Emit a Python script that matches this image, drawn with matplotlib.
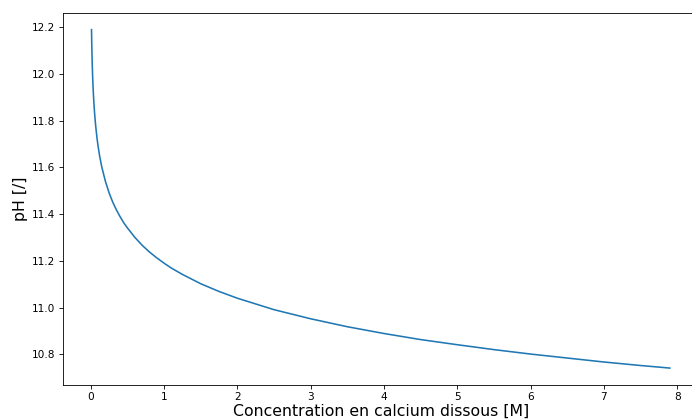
import numpy as np
import matplotlib
matplotlib.use("Agg")
import matplotlib.pyplot as plt

# concentration en calcium dissous [M] et pH
conc = [0.01, 0.0125, 0.015, 0.02, 0.025, 0.03, 0.035, 0.04, 0.05, 0.06,
        0.07, 0.085, 0.1, 0.12, 0.15, 0.2, 0.25, 0.3, 0.35, 0.4,
        0.45, 0.5, 0.6, 0.7, 0.8, 0.9, 1.0, 1.1, 1.25, 1.5,
        1.75, 2.0, 2.5, 3.0, 3.5, 4.0, 4.5, 5.0, 5.5, 6.0,
        6.5, 7.0, 7.5, 7.9]
ph = [12.190, 12.142, 12.102, 12.040, 11.991, 11.952, 11.918, 11.889, 11.841, 11.801,
      11.768, 11.725, 11.690, 11.650, 11.602, 11.540, 11.491, 11.451, 11.418, 11.389,
      11.363, 11.341, 11.301, 11.267, 11.238, 11.213, 11.190, 11.169, 11.142, 11.102,
      11.069, 11.040, 10.991, 10.952, 10.918, 10.889, 10.863, 10.841, 10.820, 10.801,
      10.784, 10.767, 10.752, 10.741]

k = 0.76  # echelle des tailles (police, traits)
plt.rcParams.update({
    "font.size": 10 * k,
    "axes.linewidth": 0.8 * k,
    "xtick.major.size": 3.5 * k,
    "ytick.major.size": 3.5 * k,
    "xtick.major.width": 0.8 * k,
    "ytick.major.width": 0.8 * k,
    "xtick.major.pad": 3.5 * k,
    "ytick.major.pad": 3.5 * k,
})

fig = plt.figure(figsize=(6.92, 4.19), dpi=100)
ax = fig.add_axes([62.6 / 692, 1 - 385 / 419, 636.2 / 692, 372.3 / 419])

ax.plot(conc, ph, linewidth=1.5 * k)
ax.spines["right"].set_visible(False)

ax.set_xlabel("Concentration en calcium dissous [M]", fontsize=11.3, labelpad=1)
ax.set_ylabel("pH [/]", fontsize=11.3, labelpad=3)

plt.savefig("out.png", dpi=100)
